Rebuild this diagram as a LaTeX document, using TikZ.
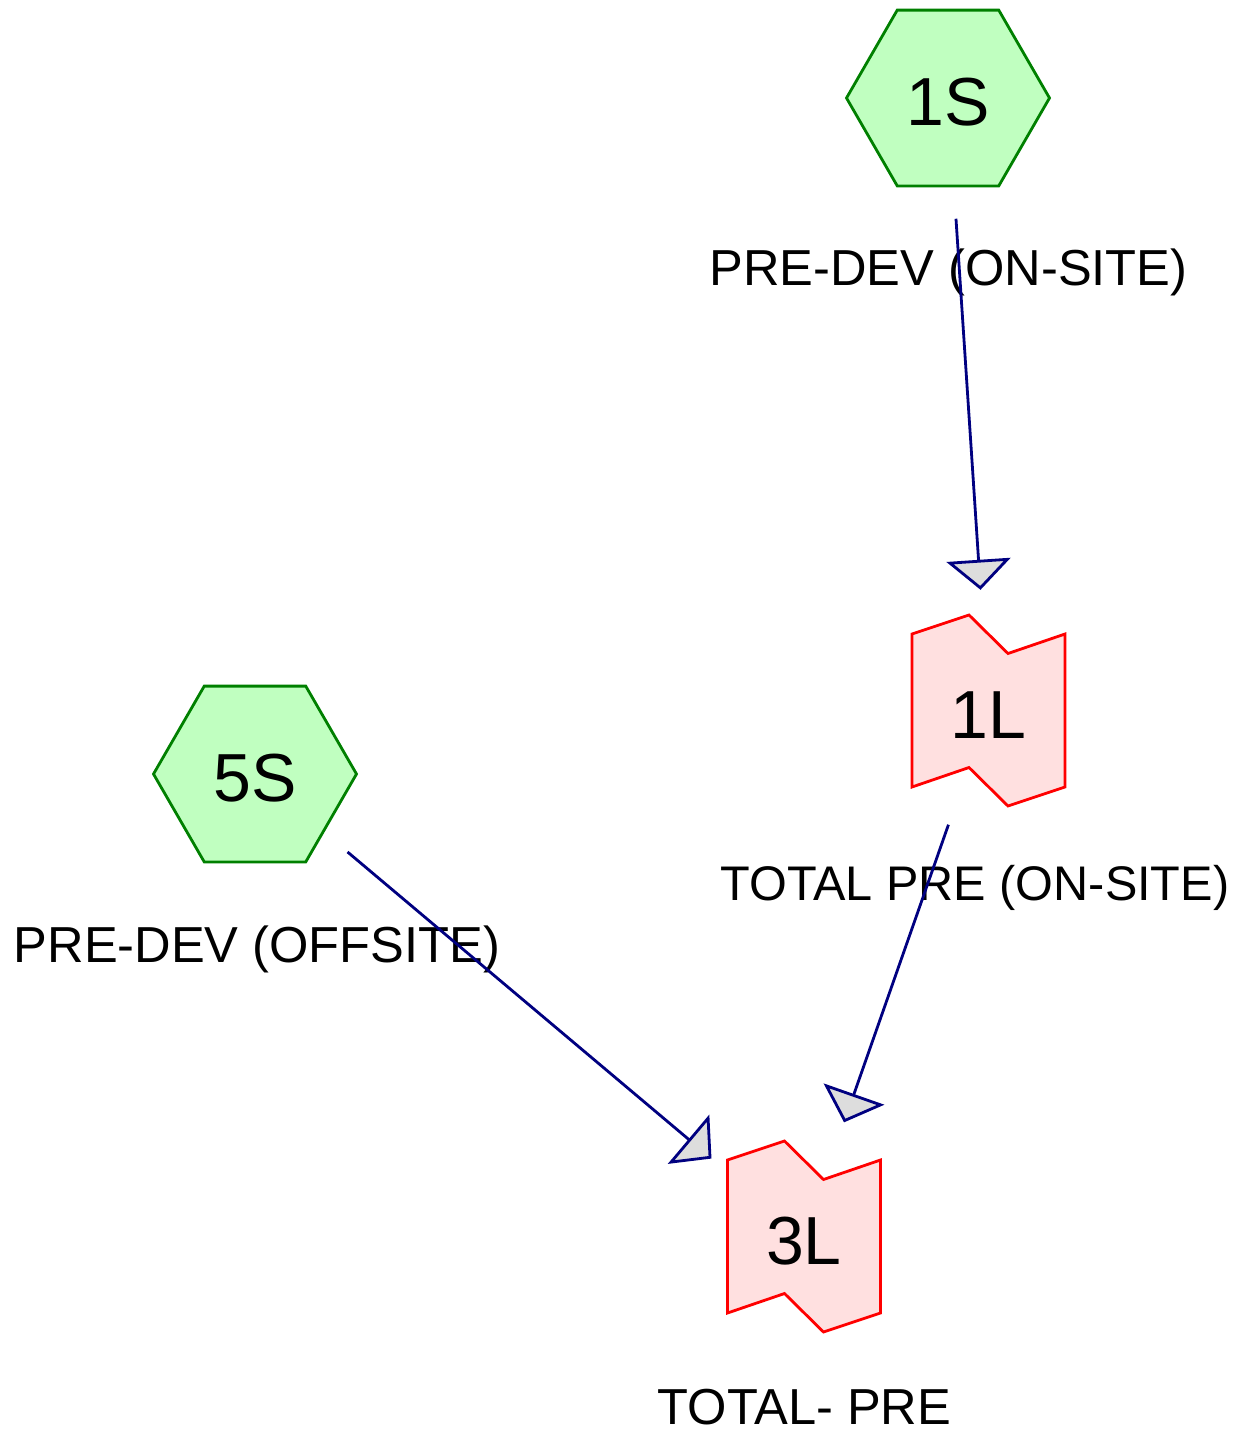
\documentclass[tikz,border=0pt]{standalone}
\usepackage{fontspec}
\setmainfont{Liberation Sans}
\usetikzlibrary{shapes.geometric,arrows.meta}

\definecolor{hexfill}{RGB}{192,255,192}
\definecolor{hexline}{RGB}{0,128,0}
\definecolor{flagfill}{RGB}{255,224,224}
\definecolor{edgeline}{RGB}{0,0,128}
\definecolor{tipfill}{RGB}{221,221,221}

\begin{document}
\begin{tikzpicture}[x=0.5pt, y=-0.5pt,
  hex/.style = {regular polygon, regular polygon sides=6, minimum size=101.5pt, inner sep=0pt, draw=hexline, fill=hexfill, line width=1.4pt, font=\fontsize{34}{40}\selectfont, text height=27.8pt, text depth=0pt},
  flag/.style = {minimum width=76pt, minimum height=76pt, inner sep=0pt, font=\fontsize{34}{40}\selectfont, text height=27.8pt, text depth=0pt},
  lab/.style = {anchor=base, inner sep=0pt, font=\fontsize{25.3}{30}\selectfont},
  link/.style = {draw=edgeline, line width=1.4pt, shorten <=60.5pt, shorten >=60.5pt, -{Triangle[length=15pt, width=32pt, fill=tipfill]}},
  flagshape/.pic = {\draw[draw=red, fill=flagfill, line width=1.4pt] (-76.5,-76.5) -- (-19.5,-95.5) -- (19.5,-57) -- (76.5,-76.5) -- (76.5,76.5) -- (19.5,95.5) -- (-19.5,57) -- (-76.5,76.5) -- cycle;}]

\useasboundingbox (0,0) rectangle (1259,1437);

\node[hex] (1S) at (948,98) {1S};
\node[hex] (5S) at (255,774) {5S};
\pic at (988.5,710.5) {flagshape};
\node[flag] (1L) at (988.5,710.5) {1L};
\pic at (804,1236.5) {flagshape};
\node[flag] (3L) at (804,1236.5) {3L};

\node[lab] (1S-lab) at (948.5,285) {PRE-DEV (ON-SITE)};
\node[lab] (5S-lab) at (257,962) {PRE-DEV (OFFSITE)};
\node[lab, font=\fontsize{24.3}{30}\selectfont] (1L-lab) at (975,900) {TOTAL PRE (ON-SITE)};
\node[lab] (3L-lab) at (804.5,1424) {TOTAL- PRE};

\draw[link] (1S.center) -- (1L.center);
\draw[link] (1L.center) -- (3L.center);
\draw[link] (5S.center) -- (3L.center);

\end{tikzpicture}
\end{document}
